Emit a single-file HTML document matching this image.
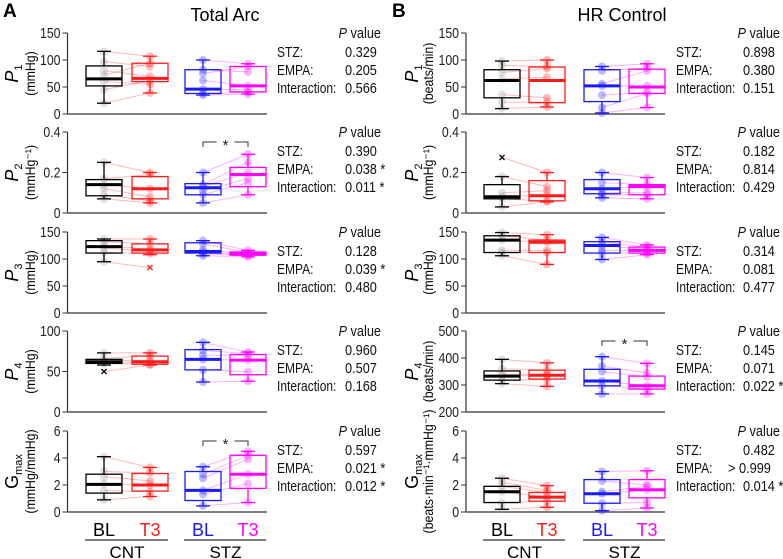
<!DOCTYPE html>
<html><head><meta charset="utf-8"><style>
body{margin:0;background:#fff}
svg{display:block;font-family:"Liberation Sans",Arial,sans-serif}
</style></head><body>
<svg id="fig" width="783" height="559" viewBox="0 0 783 559"></svg>
<script>
// ---- data: [min, q1, median, q3, max] per group (CNT-BL, CNT-T3, STZ-BL, STZ-T3)
const A1_stats=[[20,52,65,89,116],[39,60,66,94,107],[35,38,46,82,100],[37,41,52,88,93]];
const A2_stats=[[0.07,0.085,0.14,0.165,0.25],[0.05,0.07,0.12,0.18,0.2],[0.05,0.09,0.125,0.145,0.2],[0.09,0.13,0.19,0.225,0.29]];
const A3_stats=[[95,111,123,134,137],[108,111,117,128,137],[106,111,114,130,134],[104,107,110,113,116]];
const A4_stats=[[58,60,62,65,73],[58,59,62,69,73],[37,52,65,77,86],[38,46,64,71,74]];
const A5_stats=[[0.9,1.4,2.05,2.8,4.1],[1.15,1.55,2.0,2.85,3.3],[0.45,0.85,1.6,3.0,3.35],[0.7,1.75,2.8,4.2,4.5]];
const B1_stats=[[10,30,62,82,98],[13,21,62,87,100],[2,23,52,82,88],[12,38,50,83,93]];
const B2_stats=[[0.03,0.07,0.08,0.14,0.18],[0.055,0.06,0.085,0.16,0.2],[0.075,0.095,0.12,0.165,0.2],[0.07,0.09,0.13,0.14,0.175]];
const B3_stats=[[106,112,135,143,149],[90,112,131,135,145],[99,111,125,132,140],[108,111,116,122,126]];
const B4_stats=[[305,318,333,352,395],[295,322,336,355,382],[267,297,315,358,405],[267,285,297,333,380]];
const B5_stats=[[0.2,0.7,1.5,1.9,2.5],[0.35,0.8,1.1,1.45,1.95],[0.1,0.65,1.35,2.4,3.0],[0.3,1.05,1.65,2.4,3.05]];
// individual points per group (paired by index)
const A1_pts=[[116,97,80,72,60,45,20],[107,88,70,94,55,62,39],[100,82,75,62,46,38,35],[93,78,88,52,45,40,37]];
const A2_pts=[[0.25,0.17,0.14,0.12,0.09,0.07],[0.2,0.19,0.12,0.08,0.06,0.05],[0.2,0.14,0.13,0.11,0.09,0.05],[0.29,0.25,0.2,0.17,0.15,0.09]];
const A3_pts=[[137,132,125,120,112,95],[137,128,118,115,110,84],[134,128,117,113,110,106],[116,112,110,108,106,104]];
const A4_pts=[[73,66,63,61,60,50],[73,70,64,62,59,58],[86,76,70,65,52,37],[74,72,70,64,50,38]];
const A5_pts=[[4.1,3.0,2.6,2.1,1.6,0.9],[3.3,2.9,2.3,2.0,1.5,1.15],[3.35,2.8,2.5,1.6,1.3,0.45],[4.5,4.2,3.9,2.8,2.1,0.7]];
const B1_pts=[[98,90,77,65,36,22,10],[100,88,84,68,30,22,13],[88,80,56,52,35,12,2],[93,85,80,52,40,38,12]];
const B2_pts=[[0.275,0.18,0.1,0.08,0.07,0.03],[0.2,0.13,0.11,0.09,0.06,0.055],[0.2,0.15,0.12,0.1,0.09,0.075],[0.175,0.14,0.13,0.1,0.09,0.07]];
const B3_pts=[[149,143,135,116,112,106],[145,135,131,116,112,90],[140,132,125,116,111,99],[126,122,117,115,111,108]];
const B4_pts=[[395,360,340,333,318,305],[382,355,340,336,320,295],[405,370,350,315,297,267],[380,345,330,297,285,267]];
const B5_pts=[[2.5,2.2,1.9,1.5,0.7,0.2],[1.95,1.6,1.45,1.1,0.8,0.35],[3.0,2.3,1.5,1.35,0.65,0.1],[3.05,2.0,1.9,1.65,0.7,0.3]];
// outliers: [group index, value]
const A3_out=[[1,84]], A4_out=[[0,50]], B2_out=[[0,0.275]];
// axis ticks
const T150=[0,50,100,150], T04=[0,0.2,0.4], T100=[0,50,100], T6=[0,2,4,6], T500=[200,300,400,500];
const A1_p=["0.329","0.205","0.566"],A2_p=["0.390","0.038 *","0.011 *"],A3_p=["0.128","0.039 *","0.480"],A4_p=["0.960","0.507","0.168"],A5_p=["0.597","0.021 *","0.012 *"];
const B1_p=["0.898","0.380","0.151"],B2_p=["0.182","0.814","0.429"],B3_p=["0.314","0.081","0.477"],B4_p=["0.145","0.071","0.022 *"],B5_p=["0.482","> 0.999","0.014 *"];
const groups=["BL","T3","BL","T3"];
const colors=["#000000","#ff1a1a","#1a1aff","#ff00ff"];

const NS="http://www.w3.org/2000/svg";
const svg=document.getElementById('fig');
function el(tag,attrs,parent,txt){const e=document.createElementNS(NS,tag);for(const k in attrs)e.setAttribute(k,attrs[k]);if(txt!==undefined)e.textContent=txt;(parent||svg).appendChild(e);return e;}
const squeeze=[];
function sq(t,f){squeeze.push([t,f]);return t;}

const cols=[
 {ax:67.5,end:267,cx:[104,150,203,248],tx:277,vx:345,px:381,lx:12,ux:30,
  panels:[
   {st:A1_stats,pt:A1_pts,out:[],tk:T150,lab:["P","1"],unit:"(mmHg)",pv:A1_p},
   {st:A2_stats,pt:A2_pts,out:[],tk:T04,lab:["P","2"],unit:"(mmHg\u207B\u00B9)",pv:A2_p,sig:true},
   {st:A3_stats,pt:A3_pts,out:A3_out,tk:T150,lab:["P","3"],unit:"(mmHg)",pv:A3_p},
   {st:A4_stats,pt:A4_pts,out:A4_out,tk:T100,lab:["P","4"],unit:"(mmHg)",pv:A4_p},
   {st:A5_stats,pt:A5_pts,out:[],tk:T6,lab:["G","max"],unit:"(mmHg/mmHg)",pv:A5_p,sig:true}]},
 {ax:466,end:665,cx:[502,547,602,647],tx:676,vx:743,px:780,lx:412,ux:428,
  panels:[
   {st:B1_stats,pt:B1_pts,out:[],tk:T150,lab:["P","1"],unit:"(beats/min)",pv:B1_p},
   {st:B2_stats,pt:B2_pts,out:B2_out,tk:T04,lab:["P","2"],unit:"(mmHg\u207B\u00B9)",pv:B2_p},
   {st:B3_stats,pt:B3_pts,out:[],tk:T150,lab:["P","3"],unit:"(mmHg)",pv:B3_p},
   {st:B4_stats,pt:B4_pts,out:[],tk:T500,lab:["P","4"],unit:"(beats/min)",pv:B4_p,sig:true},
   {st:B5_stats,pt:B5_pts,out:[],tk:T6,lab:["G","max"],unit:"(beats\u00B7min\u207B\u00B9\u00B7mmHg\u207B\u00B9)",pv:B5_p}]}
];
const tops=[33,132,232,331,431], H=81, BW=36;

el('text',{x:3,y:17,'font-size':19,'font-weight':'bold',},svg,'A');
el('text',{x:392,y:17,'font-size':19,'font-weight':'bold',},svg,'B');
el('text',{x:225,y:21,'font-size':18,'text-anchor':'middle',},svg,'Total Arc');
el('text',{x:622,y:21,'font-size':18,'text-anchor':'middle',},svg,'HR Control');

cols.forEach((c,ci)=>{
 c.panels.forEach((p,pi)=>{
  const top=tops[pi],bot=top+H;
  const lo=p.tk[0],hi=p.tk[p.tk.length-1];
  const y=v=>bot-(v-lo)/(hi-lo)*H;
  const g=el('g',{});
  
  
  el('line',{x1:c.ax,y1:top,x2:c.ax,y2:bot,stroke:'#333','stroke-width':1.2},g);
  el('line',{x1:c.ax,y1:bot,x2:c.end,y2:bot,stroke:'#555','stroke-width':1.5},g);
  p.tk.forEach(t=>{
   el('line',{x1:c.ax-5,y1:y(t),x2:c.ax,y2:y(t),stroke:'#333'},g);
   const tl=el('text',{x:c.ax-7,y:y(t)+5,'font-size':15,'text-anchor':'end',fill:'#222'},g,String(t));
   
   
   sq(tl,0.82);
  });
  const cy=top+H/2;
  const yl=el('text',{x:0,y:0,'font-size':18,'text-anchor':'middle',transform:`translate(${c.lx+6},${cy}) rotate(-90)`},g);
  
  
  el('tspan',{'font-style':p.lab[0]==='P'?'italic':'normal'},yl,p.lab[0]);
  el('tspan',{'font-size':11,dy:4},yl,p.lab[1]);
  const ut=el('text',{x:0,y:0,'font-size':14,'text-anchor':'middle',transform:`translate(${c.ux+5},${cy}) rotate(-90)`},g,p.unit);
  
  
  sq(ut,0.88);
  [[0,1],[2,3]].forEach(([a,b])=>{
   const n=Math.min(p.pt[a].length,p.pt[b].length);
   for(let i=0;i<n;i++){
    const ln=el('line',{x1:c.cx[a],y1:y(p.pt[a][i]),x2:c.cx[b],y2:y(p.pt[b][i]),stroke:colors[b],'stroke-opacity':0.3,'stroke-width':1},g);
    
    
   }
  });
  p.pt.forEach((arr,gi)=>arr.forEach(v=>{
   if(p.out.some(o=>o[0]===gi&&o[1]===v))return;
   const d=el('circle',{cx:c.cx[gi],cy:y(v),r:4,fill:gi===0?'#999':colors[gi],'fill-opacity':0.3},g);
   
   
  }));
  p.st.forEach((s,gi)=>{
   const x=c.cx[gi],col=colors[gi];
   const bx=el('g',{stroke:col,fill:'none'},g);
   
   
   el('line',{x1:x,y1:y(s[0]),x2:x,y2:y(s[1]),'stroke-width':1.3},bx);
   el('line',{x1:x,y1:y(s[3]),x2:x,y2:y(s[4]),'stroke-width':1.3},bx);
   el('line',{x1:x-7,y1:y(s[0]),x2:x+7,y2:y(s[0]),'stroke-width':1.3},bx);
   el('line',{x1:x-7,y1:y(s[4]),x2:x+7,y2:y(s[4]),'stroke-width':1.3},bx);
   el('rect',{x:x-BW/2,y:y(s[3]),width:BW,height:Math.max(1,y(s[1])-y(s[3])),'stroke-width':1.3},bx);
   el('line',{x1:x-BW/2,y1:y(s[2]),x2:x+BW/2,y2:y(s[2]),'stroke-width':3},bx);
  });
  p.out.forEach(o=>{
   const t=el('text',{x:c.cx[o[0]],y:y(o[1])+4,'font-size':12,'font-weight':'bold','text-anchor':'middle',fill:colors[o[0]]},g,'×');
   
   
  });
  if(p.sig){
   const by=top+10,x1=c.cx[2],x2=c.cx[3],m=(x1+x2)/2;
   const sg=el('g',{stroke:'#333','stroke-width':1,fill:'none'},g);
   
   
   el('polyline',{points:`${x1},${by+5} ${x1},${by} ${m-9},${by}`},sg);
   el('polyline',{points:`${m+9},${by} ${x2},${by} ${x2},${by+5}`},sg);
   el('text',{x:m,y:by+8,'font-size':15,'text-anchor':'middle',fill:'#222',stroke:'none'},g,'*');
  }
  const pg=el('g',{'font-size':15,fill:'#111'},g);
  
  
  const ph=el('text',{x:c.px,y:top+5,'text-anchor':'end'},pg);
  el('tspan',{'font-style':'italic'},ph,'P');
  el('tspan',{},ph,' value');
  sq(ph,0.85);
  ['STZ:','EMPA:','Interaction:'].forEach((l,i)=>{
   sq(el('text',{x:c.tx,y:top+24+i*18},pg,l),0.8);
   const v=p.pv[i];
   sq(el('text',{x:v[0]==='>'?c.vx-15:c.vx,y:top+24+i*18},pg,v),0.85);
  });
 });
 const xg=el('g',{});
 
 
 c.cx.forEach((x,gi)=>el('text',{x:x,y:536,'font-size':18,'text-anchor':'middle',fill:colors[gi]},xg,groups[gi]));
 el('line',{x1:c.cx[0]-19,y1:540,x2:c.cx[1]+18,y2:540,stroke:'#333','stroke-width':1.2},xg);
 el('line',{x1:c.cx[2]-19,y1:540,x2:c.cx[3]+18,y2:540,stroke:'#333','stroke-width':1.2},xg);
 el('text',{x:(c.cx[0]+c.cx[1])/2,y:558,'font-size':17,'text-anchor':'middle'},xg,'CNT');
 el('text',{x:(c.cx[2]+c.cx[3])/2,y:558,'font-size':17,'text-anchor':'middle'},xg,'STZ');
});
squeeze.forEach(([t,f])=>{
 const w=t.getComputedTextLength();
 if(w>0){t.setAttribute('textLength',(w*f).toFixed(1));t.setAttribute('lengthAdjust','spacingAndGlyphs');}
});
</script>
</body></html>
